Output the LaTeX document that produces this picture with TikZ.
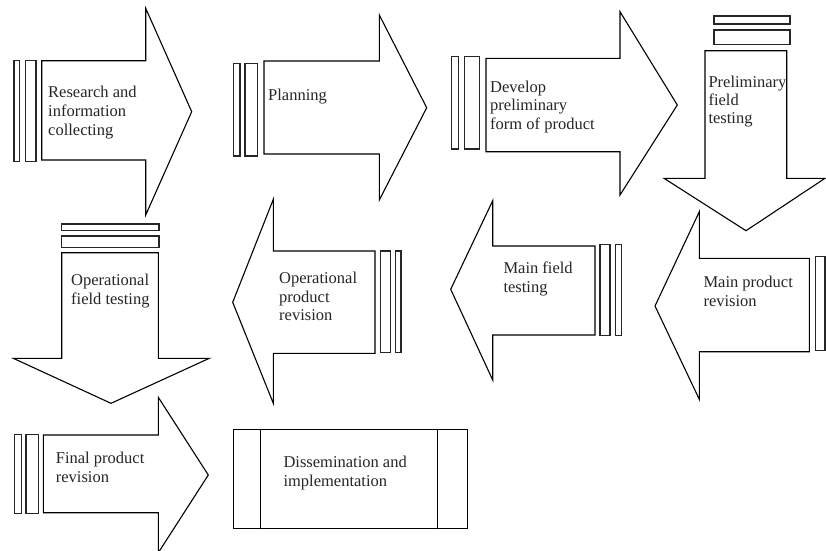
\documentclass[tikz,border=0pt]{standalone}
\usepackage{fontspec}
\setmainfont{Liberation Serif}
\begin{document}
\begin{tikzpicture}[x=1pt,y=-1pt,
  shape line/.style={draw=black, line width=1.1pt, fill=white},
  bar/.style={draw=black!85, line width=1.2pt},
  txt/.style={anchor=base west, align=left, inner sep=0pt, text=black!85,
    font=\fontsize{16.5}{18.8}\selectfont}]
\useasboundingbox[fill=white] (0,0) rectangle (826,550);
% 1 Research
\draw[shape line] (41.7,60.7) -- (145.7,60.7) -- (145.7,8.3) -- (191.7,111.7) -- (145.7,215) -- (145.7,160) -- (41.7,160) -- cycle;
\draw[bar] (14,60.7) rectangle (19.3,161.7);
\draw[bar] (25.3,60.7) rectangle (36,161.7);
\node[txt] (t1) at (48,135.5) {Research and\\information\\collecting};
% 2 Planning
\draw[shape line] (264,61) -- (379.3,61) -- (379.3,15) -- (426.7,107.7) -- (379.3,200) -- (379.3,154) -- (264,154) -- cycle;
\draw[bar] (233.3,63.3) rectangle (240,156);
\draw[bar] (245,63.3) rectangle (257.3,156);
\node[txt] (t2) at (268,100) {Planning};
% 3 Develop
\draw[shape line] (486,58.3) -- (620,58.3) -- (620,11.7) -- (677.3,105) -- (620,195) -- (620,151.7) -- (486,151.7) -- cycle;
\draw[bar] (451.7,56.7) rectangle (458.3,149);
\draw[bar] (464.3,56.7) rectangle (479.3,149);
\node[txt] (t3) at (490,129.6) {Develop\\preliminary\\form of product};
% 4 Preliminary field testing
\draw[shape line] (705,50.7) -- (786.7,50.7) -- (786.7,178.3) -- (825,178.3) -- (746,230.7) -- (664,178.3) -- (705,178.3) -- cycle;
\draw[bar] (714,16) rectangle (790,24);
\draw[bar] (714,30) rectangle (790,44.3);
\node[txt, font=\fontsize{16.5}{18}\selectfont] (t4) at (708.3,123) {Preliminary\\field\\testing};
% 5 Operational field testing
\draw[shape line] (61.7,252.7) -- (158.3,252.7) -- (158.3,358.3) -- (209.3,358.3) -- (111,403.3) -- (13.3,358.3) -- (61.7,358.3) -- cycle;
\draw[bar] (61.7,224) rectangle (159,230.7);
\draw[bar] (61.7,236) rectangle (159,247.7);
\node[txt] (t5) at (71,304.6) {Operational\\field testing};
% 6 Operational product revision
\draw[shape line] (375,251) -- (273.3,251) -- (273.3,199.3) -- (232.7,302.3) -- (273.3,403.3) -- (273.3,353.3) -- (375,353.3) -- cycle;
\draw[bar] (380.7,251) rectangle (390.7,352.7);
\draw[bar] (395.7,251) rectangle (401,352.7);
\node[txt] (t6) at (279,320.8) {Operational\\product\\revision};
% 7 Main field testing
\draw[shape line] (595,246) -- (492.7,246) -- (492.7,200.7) -- (450.7,289.3) -- (492.7,380) -- (492.7,335) -- (595,335) -- cycle;
\draw[bar] (600,244.3) rectangle (610,335.7);
\draw[bar] (615.7,244.3) rectangle (621.7,335.7);
\node[txt] (t7) at (503.3,292) {Main field\\testing};
% 8 Main product revision
\draw[shape line] (809.3,258.3) -- (699.3,258.3) -- (699.3,211.7) -- (655,306) -- (699.3,399.3) -- (699.3,351.7) -- (809.3,351.7) -- cycle;
\draw[bar] (815.7,256.7) rectangle (825,350.7);
\node[txt] (t8) at (703.3,306) {Main product\\revision};
% 9 Final product revision
\draw[shape line] (43.3,435) -- (158.3,435) -- (158.3,397.3) -- (208.3,475) -- (158.3,552.7) -- (158.3,512.7) -- (43.3,512.7) -- cycle;
\draw[bar] (14.3,434.3) rectangle (21.7,513.3);
\draw[bar] (26,434.3) rectangle (38.3,513.3);
\node[txt] (t9) at (55.7,482.3) {Final product\\revision};
% 10 Dissemination
\draw[shape line] (233.3,429.3) rectangle (467.3,528.3);
\draw[shape line] (260.7,429.3) -- (260.7,528.3);
\draw[shape line] (437.3,429.3) -- (437.3,528.3);
\node[txt] (t10) at (283.3,486) {Dissemination and\\implementation};
\end{tikzpicture}
\end{document}
